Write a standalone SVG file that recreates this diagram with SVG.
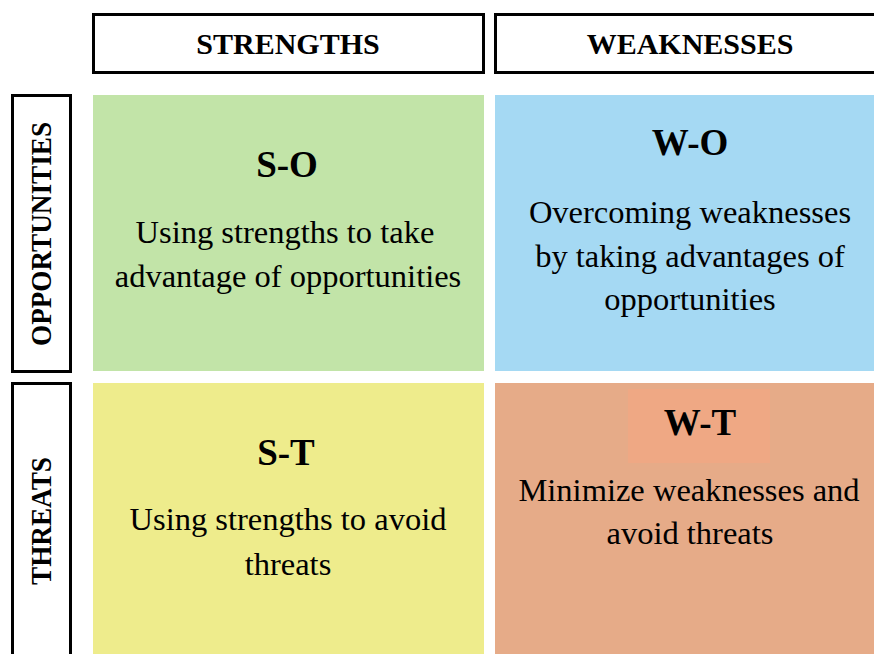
<svg xmlns="http://www.w3.org/2000/svg" width="874" height="654" viewBox="0 0 874 654">
  <style>
    .hdr { fill: #ffffff; stroke: #000000; stroke-width: 3; }
    .hdr-text { font-family: "Liberation Serif", "Times New Roman", serif; font-weight: bold; font-size: 30px; fill: #000000; text-anchor: middle; }
    .side-text { font-family: "Liberation Serif", "Times New Roman", serif; font-weight: bold; font-size: 29px; fill: #000000; text-anchor: middle; }
    .title { font-family: "Liberation Serif", "Times New Roman", serif; font-weight: bold; font-size: 37px; fill: #000000; text-anchor: middle; }
    .body { font-family: "Liberation Serif", "Times New Roman", serif; font-size: 32.5px; fill: #000000; text-anchor: middle; }
  </style>

  <rect width="874" height="654" fill="#ffffff"/>

  <!-- column headers -->
  <g id="hdr-strengths">
    <rect class="hdr" x="93.5" y="14.5" width="390" height="58"/>
    <text class="hdr-text" x="288" y="54">STRENGTHS</text>
  </g>
  <g id="hdr-weaknesses">
    <rect class="hdr" x="495.5" y="14.5" width="400" height="58"/>
    <text class="hdr-text" x="690" y="54">WEAKNESSES</text>
  </g>

  <!-- row headers -->
  <g id="hdr-opportunities">
    <rect class="hdr" x="12.5" y="95.5" width="58" height="276"/>
    <text class="side-text" transform="translate(51 234) rotate(-90)" textLength="224" lengthAdjust="spacingAndGlyphs">OPPORTUNITIES</text>
  </g>
  <g id="hdr-threats">
    <rect class="hdr" x="12.5" y="383.5" width="58" height="290"/>
    <text class="side-text" transform="translate(51 521) rotate(-90)" textLength="128" lengthAdjust="spacingAndGlyphs">THREATS</text>
  </g>

  <!-- quadrants -->
  <g id="q-so">
    <rect x="93" y="95" width="391" height="276" fill="#C2E4A8"/>
    <text class="title" x="287" y="177">S-O</text>
    <text class="body" x="285" y="243">Using strengths to take</text>
    <text class="body" x="288" y="287">advantage of opportunities</text>
  </g>
  <g id="q-wo">
    <rect x="495" y="95" width="379" height="276" fill="#A5D9F3"/>
    <text class="title" x="690" y="155">W-O</text>
    <text class="body" x="690" y="223">Overcoming weaknesses</text>
    <text class="body" x="690" y="267">by taking advantages of</text>
    <text class="body" x="690" y="310">opportunities</text>
  </g>
  <g id="q-st">
    <rect x="93" y="383" width="391" height="271" fill="#EEEC8C"/>
    <text class="title" x="286" y="465">S-T</text>
    <text class="body" x="288" y="530">Using strengths to avoid</text>
    <text class="body" x="288" y="575">threats</text>
  </g>
  <g id="q-wt">
    <rect x="495" y="383" width="379" height="271" fill="#E6AB88"/>
    <rect x="628" y="389" width="142" height="74" fill="#EFA884"/>
    <text class="title" x="700" y="435">W-T</text>
    <text class="body" x="689" y="501">Minimize weaknesses and</text>
    <text class="body" x="690" y="544">avoid threats</text>
  </g>

  <g id="connectors"/>
</svg>
